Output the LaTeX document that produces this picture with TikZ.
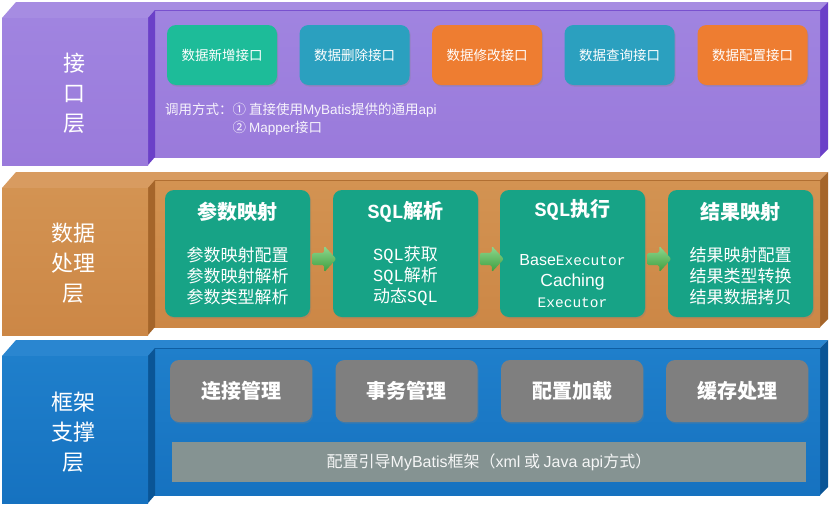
\documentclass[tikz,border=0pt]{standalone}
\usepackage{fontspec}
\setmainfont{Noto Sans CJK SC}
\newfontfamily\latf{Liberation Sans}
\newfontfamily\monof{Liberation Mono}
\usetikzlibrary{shapes.arrows,shadows,calc}
\definecolor{pFront}{HTML}{9A7ADB}
\definecolor{pFrontT}{HTML}{A084E0}
\definecolor{pTop}{HTML}{A68CE2}
\definecolor{pSide}{HTML}{6B40C8}
\definecolor{oFront}{HTML}{CC8746}
\definecolor{oFrontT}{HTML}{D39352}
\definecolor{oTop}{HTML}{D89B60}
\definecolor{oSide}{HTML}{A5652A}
\definecolor{bFront}{HTML}{1672C0}
\definecolor{bFrontT}{HTML}{1F7FCB}
\definecolor{bTop}{HTML}{2A86D0}
\definecolor{bSide}{HTML}{0A5596}
\definecolor{cGreen}{HTML}{1DBC99}
\definecolor{cTeal}{HTML}{2BA0BF}
\definecolor{cOrange}{HTML}{EE7D31}
\definecolor{cProc}{HTML}{17A386}
\definecolor{cGray}{HTML}{7F7F7F}
\definecolor{cBar}{HTML}{859392}
\definecolor{aTop}{HTML}{8FD88F}
\definecolor{aBot}{HTML}{3C9C3C}
\newcommand{\mblayer}[5]{%
 \begin{scope}[shift={(0,#1)}]
  % main band
  \fill[#3] (9,10) -- (820,10) -- (828,2) -- (16,2) -- cycle;
  \fill[#4] (820,10) -- (828,2) -- (828,149) -- (820,157) -- cycle;
  \shade[top color=#5,bottom color=#2] (9,10) rectangle (820,157);
  \draw[#4!70!#2, line width=0.8pt] (9,10) -- (820,10);
  % left block
  \fill[#3] (2,18) -- (148,18) -- (155,10) -- (9,10) -- cycle;
  \fill[#4] (148,18) -- (155,10) -- (155,157) -- (148,165) -- cycle;
  \shade[top color=#5,bottom color=#2] (2,18) rectangle (148,165);
 \end{scope}}
\tikzset{
 ibox/.style={rounded corners=9pt, inner sep=0pt, text=white,
   drop shadow={shadow xshift=1.2pt, shadow yshift=-1.6pt, opacity=0.3}},
 ifbox/.style={ibox, minimum width=110pt, minimum height=60pt, font=\fontsize{13.5}{15}\selectfont},
 pbox/.style={ibox, fill=cProc, minimum width=145pt, minimum height=127pt},
 gbox/.style={ibox, fill=cGray, minimum width=142pt, minimum height=62pt, font=\fontsize{20}{22}\selectfont\bfseries},
 ttl/.style={text=white, font=\fontsize{20}{22}\selectfont\bfseries},
 itm/.style={text=white, align=center, font=\fontsize{17}{21}\selectfont},
 lbl/.style={text=white, align=center, font=\fontsize{22}{30}\selectfont},
 garrow/.style={single arrow, top color=aTop, bottom color=aBot, draw=none,
   minimum height=24pt, inner sep=6pt, single arrow head extend=7pt, single arrow tip angle=95,
   rounded corners=1.5pt}
}
\begin{document}
\begin{tikzpicture}[x=1pt,y=-1pt]
\useasboundingbox (0,0) rectangle (830,506);
\fill[white] (0,0) rectangle (830,506);
\mblayer{0}{pFront}{pTop}{pSide}{pFrontT}
\mblayer{170}{oFront}{oTop}{oSide}{oFrontT}
\mblayer{338}{bFront}{bTop}{bSide}{bFrontT}

% ---- layer 1
\node[lbl] (L1) at (74,93) {接\\口\\层};
\node[ifbox, fill=cGreen] (i1) at (222,55) {数据新增接口};
\node[ifbox, fill=cTeal] (i2) at (354.5,55) {数据删除接口};
\node[ifbox, fill=cOrange] (i3) at (487,55) {数据修改接口};
\node[ifbox, fill=cTeal] (i4) at (619.5,55) {数据查询接口};
\node[ifbox, fill=cOrange] (i5) at (752.5,55) {数据配置接口};
\node[anchor=west, inner sep=0pt, text=white!92!pFront, font=\fontsize{13.5}{15}\selectfont] (c1) at (165,110) {调用方式：① 直接使用{\latf MyBatis}提供的通用{\latf api}};
\node[anchor=west, inner sep=0pt, text=white!92!pFront, font=\fontsize{13.5}{15}\selectfont] (c2) at (232.5,128) {② {\latf Mapper}接口};

% ---- layer 2
\node[lbl] (L2) at (73,263) {数据\\处理\\层};
\node[pbox] (p1) at (237.5,253.5) {};
\node[pbox] (p2) at (405.5,253.5) {};
\node[pbox] (p3) at (572.5,253.5) {};
\node[pbox] (p4) at (740.5,253.5) {};
\node[ttl] (t1) at ($(p1.north)+(0,22)$) {参数映射};
\node[ttl] (t2) at ($(p2.north)+(0,22)$) {{\monof\bfseries SQL}解析};
\node[ttl] (t3) at ($(p3.north)+(0,20)$) {{\monof\bfseries SQL}执行};
\node[ttl] (t4) at ($(p4.north)+(0,22)$) {结果映射};
\node[itm] (m1) at ($(p1.center)+(0,22.5)$) {参数映射配置\\参数映射解析\\参数类型解析};
\node[itm] (m2) at ($(p2.center)+(0,22.5)$) {{\monof SQL}获取\\{\monof SQL}解析\\动态{\monof SQL}};
\node[itm] (m3) at ($(p3.center)+(0,27.5)$) {{\latf\fontsize{16}{21}\selectfont Base}{\monof\fontsize{14.5}{21}\selectfont Executor}\\{\latf\fontsize{17.5}{21}\selectfont Caching}\\{\monof\fontsize{14.5}{21}\selectfont Executor}};
\node[itm] (m4) at ($(p4.center)+(0,22.5)$) {结果映射配置\\结果类型转换\\结果数据拷贝};
\path (p1.east) -- (p2.west) node[midway, yshift=-5.5pt, garrow] (a1) {};
\path (p2.east) -- (p3.west) node[midway, yshift=-5.5pt, garrow] (a2) {};
\path (p3.east) -- (p4.west) node[midway, yshift=-5.5pt, garrow] (a3) {};

% ---- layer 3
\node[lbl] (L3) at (73,432) {框架\\支撑\\层};
\node[gbox] (g1) at (241,391) {连接管理};
\node[gbox] (g2) at (406.5,391) {事务管理};
\node[gbox] (g3) at (572,391) {配置加载};
\node[gbox] (g4) at (737,391) {缓存处理};
\node[fill=cBar, minimum width=634pt, minimum height=40pt, inner sep=0pt, text=white!92!cBar,
  font=\fontsize{16}{18}\selectfont] (bar) at (489,462) {配置引导{\latf MyBatis}框架（{\latf xml} 或 {\latf Java api}方式）};
\end{tikzpicture}
\end{document}
